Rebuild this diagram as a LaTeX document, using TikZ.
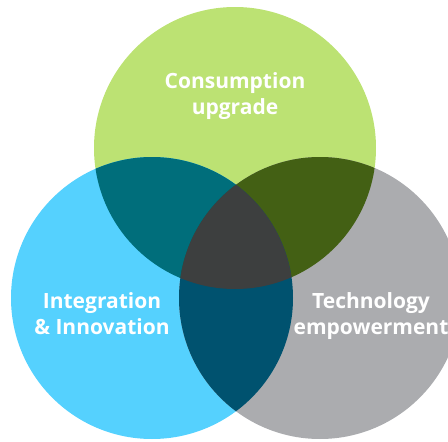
\documentclass[tikz,border=0pt]{standalone}
\usepackage{fontspec}
\setmainfont{Open Sans}
\definecolor{cgreen}{HTML}{BCE273}
\definecolor{cblue}{HTML}{55D1FE}
\definecolor{cgray}{HTML}{ABACAF}
\definecolor{cteal}{HTML}{006E7B}
\definecolor{colive}{HTML}{436014}
\definecolor{cnavy}{HTML}{00526F}
\definecolor{cdark}{HTML}{3D3F3F}
\tikzset{
  label text/.style={text=white, font=\bfseries\fontsize{21}{26}\selectfont, align=center, inner sep=0pt}
}
\begin{document}
\begin{tikzpicture}[x=1pt,y=-1pt]
  \useasboundingbox (0,0) rectangle (448,442);
  \clip (0,0) rectangle (448,442);
  \def\R{141}
  % three circles
  \fill[cgreen] (235,148) circle (\R);
  \fill[cblue]  (152,298) circle (\R);
  \fill[cgray]  (320,298) circle (\R);
  % pairwise overlaps
  \begin{scope}
    \clip (235,148) circle (\R);
    \fill[cteal] (152,298) circle (\R);
  \end{scope}
  \begin{scope}
    \clip (235,148) circle (\R);
    \fill[colive] (320,298) circle (\R);
  \end{scope}
  \begin{scope}
    \clip (152,298) circle (\R);
    \fill[cnavy] (320,298) circle (\R);
  \end{scope}
  % common centre
  \begin{scope}
    \clip (235,148) circle (\R);
    \clip (152,298) circle (\R);
    \fill[cdark] (320,298) circle (\R);
  \end{scope}
  % labels
  \node[label text] (cons) at (235,96) {Consumption\\upgrade};
  \node[label text] (integ) at (102,314) {Integration\\\& Innovation};
  \node[label text] (tech) at (371,316) {Technology\\empowerment};
\end{tikzpicture}
\end{document}
